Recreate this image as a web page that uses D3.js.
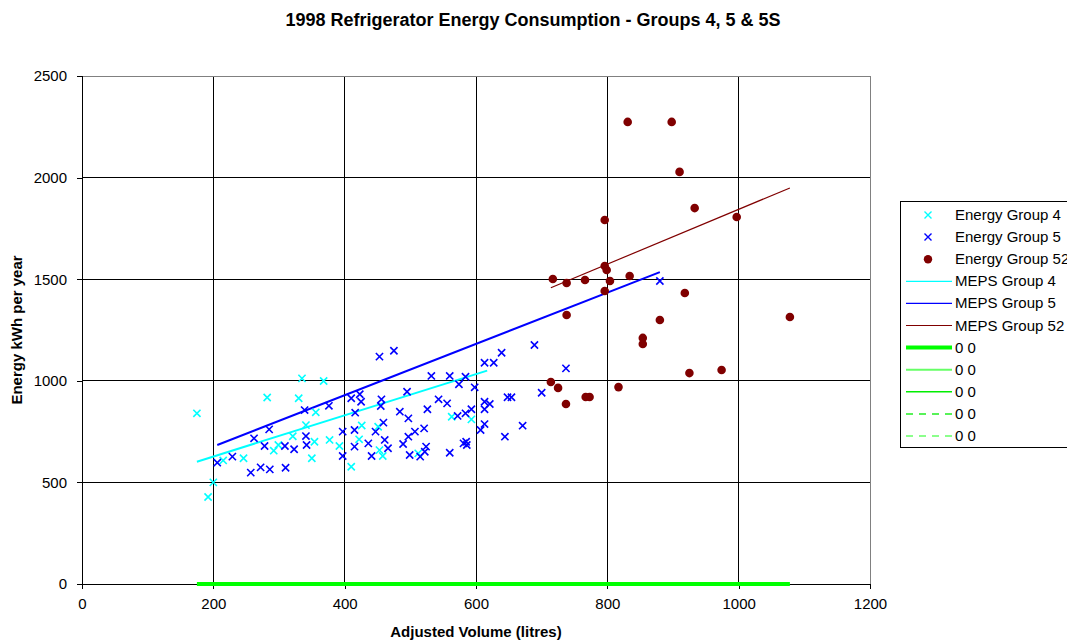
<!DOCTYPE html>
<html>
<head>
<meta charset="utf-8">
<script src="https://cdn.jsdelivr.net/npm/d3@7"></script>
<style>
  body { margin: 0; background: #fff; }
  svg { font-family: Arial, "Liberation Sans", sans-serif; }
</style>
</head>
<body>
<div id="chart"></div>
<script>
// ---- data ----
const group4Vol    = [175, 192, 200, 215, 246, 282, 292, 299, 321, 330, 335, 341, 350, 354, 356, 368, 377, 392, 410, 422, 426, 451, 453, 458, 512, 563, 593];
const group4Energy = [840, 428, 500, 608, 619, 918, 656, 684, 727, 914, 1012, 782, 619, 700, 845, 999, 709, 679, 577, 712, 780, 774, 659, 630, 643, 823, 810];

const group5Vol    = [206, 229, 257, 262, 272, 278, 285, 286, 309, 310, 323, 339, 341, 342, 376, 397, 397, 410, 416, 415, 415, 423, 425, 436, 441, 447, 453, 455, 456, 459, 461, 466, 475, 484, 489, 495, 497, 497, 499, 507, 515, 521, 522, 524, 526, 532, 543, 556, 560, 560, 572, 574, 581, 584, 584, 585, 586, 593, 598, 607, 613, 613, 613, 613, 621, 627, 639, 644, 648, 654, 671, 689, 700, 737, 880];
const group5Energy = [597, 627, 548, 717, 574, 679, 761, 564, 679, 572, 663, 856, 728, 684, 877, 750, 630, 914, 843, 758, 676, 934, 897, 692, 630, 750, 1119, 876, 909, 794, 709, 668, 1148, 848, 689, 946, 815, 725, 635, 750, 627, 766, 651, 676, 860, 1024, 909, 889, 1024, 646, 827, 983, 692, 1020, 840, 700, 684, 860, 968, 758, 1089, 897, 860, 787, 886, 1089, 1138, 725, 919, 919, 779, 1176, 941, 1061, 1491];

const group52Vol    = [714, 725, 737, 738, 738, 717, 766, 767, 773, 796, 796, 799, 796, 804, 817, 831, 834, 854, 854, 880, 898, 910, 918, 925, 933, 974, 997, 1078];
const group52Energy = [994, 965, 886, 1481, 1324, 1501, 1496, 920, 920, 1791, 1565, 1545, 1442, 1491, 969, 2274, 1516, 1211, 1181, 1299, 2274, 2028, 1432, 1038, 1850, 1053, 1806, 1314];

const meps4Vol = [175, 617],  meps4Energy = [602, 1050];
const meps5Vol = [206, 880],  meps5Energy = [684, 1535];
const meps52Vol = [714, 1078], meps52Energy = [1458, 1949];
const zeroVol = [175, 1078],  zeroEnergy = [0, 0];

const xTicks = [0, 200, 400, 600, 800, 1000, 1200];
const yTicks = [0, 500, 1000, 1500, 2000, 2500];

const legendLabels = ["Energy Group 4", "Energy Group 5", "Energy Group 52",
  "MEPS Group 4", "MEPS Group 5", "MEPS Group 52", "0 0", "0 0", "0 0", "0 0", "0 0"];

// ---- layout ----
const W = 1067, H = 642;
const plotL = 82, plotR = 870, plotT = 76, plotB = 584;

const svg = d3.select("#chart").append("svg")
  .attr("width", W).attr("height", H);

const x = d3.scaleLinear().domain([0, 1200]).range([plotL, plotR]);
const y = d3.scaleLinear().domain([0, 2500]).range([plotB, plotT]);

// title
svg.append("text")
  .attr("x", 533).attr("y", 26)
  .attr("text-anchor", "middle")
  .attr("font-weight", "bold").attr("font-size", 18)
  .text("1998 Refrigerator Energy Consumption - Groups 4, 5 & 5S");

// grid
const grid = svg.append("g").attr("shape-rendering", "crispEdges");
grid.selectAll("line.v").data(xTicks).join("line")
  .attr("x1", d => x(d)).attr("x2", d => x(d))
  .attr("y1", plotT).attr("y2", plotB)
  .attr("stroke", "#000");
grid.selectAll("line.h").data(yTicks).join("line")
  .attr("x1", plotL).attr("x2", plotR)
  .attr("y1", d => y(d)).attr("y2", d => y(d))
  .attr("stroke", "#000");
grid.append("rect")
  .attr("x", plotL).attr("y", plotT)
  .attr("width", plotR - plotL).attr("height", plotB - plotT)
  .attr("fill", "none").attr("stroke", "#808080");

// axes
const xAxis = svg.append("g")
  .attr("transform", `translate(0,${plotB})`)
  .call(d3.axisBottom(x).tickValues(xTicks).tickSize(5).tickPadding(9).tickFormat(d3.format("d")));
const yAxis = svg.append("g")
  .attr("transform", `translate(${plotL},0)`)
  .call(d3.axisLeft(y).tickValues(yTicks).tickSize(5).tickPadding(10).tickFormat(d3.format("d")));
[xAxis, yAxis].forEach(a => {
  a.attr("shape-rendering", "crispEdges");
  a.select(".domain").attr("stroke", "#000");
  a.selectAll(".tick line").attr("stroke", "#000");
  a.selectAll(".tick text")
    .attr("font-family", "Arial, 'Liberation Sans', sans-serif")
    .attr("font-size", 15).attr("fill", "#000");
});

// axis titles
svg.append("text")
  .attr("x", x(600)).attr("y", 637)
  .attr("text-anchor", "middle")
  .attr("font-weight", "bold").attr("font-size", 15)
  .text("Adjusted Volume (litres)");
svg.append("text")
  .attr("transform", `translate(22,${y(1250)}) rotate(-90)`)
  .attr("text-anchor", "middle")
  .attr("font-weight", "bold").attr("font-size", 15)
  .text("Energy kWh per year");

// lines
const line = d3.line().x(d => x(d[0])).y(d => y(d[1]));
function drawLine(vols, vals, color, width, dash) {
  svg.append("path")
    .datum(d3.zip(vols, vals))
    .attr("d", line)
    .attr("fill", "none")
    .attr("stroke", color)
    .attr("stroke-width", width)
    .attr("stroke-dasharray", dash || null);
}
drawLine(zeroVol, zeroEnergy, "#00ff00", 4);
drawLine(meps4Vol, meps4Energy, "#00ffff", 2);
drawLine(meps5Vol, meps5Energy, "#0000ff", 2);
drawLine(meps52Vol, meps52Energy, "#800000", 1.2);

// markers
function crossPath(cx, cy, s) {
  return `M${cx - s},${cy - s}L${cx + s},${cy + s}M${cx - s},${cy + s}L${cx + s},${cy - s}`;
}
function drawCrosses(vols, vals, color) {
  svg.append("g").selectAll("path")
    .data(d3.zip(vols, vals))
    .join("path")
    .attr("d", d => crossPath(x(d[0]), y(d[1]), 3.6))
    .attr("stroke", color)
    .attr("stroke-width", 1.6)
    .attr("fill", "none");
}
drawCrosses(group4Vol, group4Energy, "#00ffff");
drawCrosses(group5Vol, group5Energy, "#0000ff");
svg.append("g").selectAll("circle")
  .data(d3.zip(group52Vol, group52Energy))
  .join("circle")
  .attr("cx", d => x(d[0])).attr("cy", d => y(d[1]))
  .attr("r", 4.3)
  .attr("fill", "#800000");

// legend
const lg = svg.append("g");
lg.append("rect")
  .attr("x", 900.5).attr("y", 201.5)
  .attr("width", 200).attr("height", 246)
  .attr("fill", "#fff").attr("stroke", "#000");

const legendStyles = [
  { type: "x", color: "#00ffff" },
  { type: "x", color: "#0000ff" },
  { type: "dot", color: "#800000" },
  { type: "line", color: "#00ffff", w: 1.2 },
  { type: "line", color: "#0000ff", w: 1.2 },
  { type: "line", color: "#800000", w: 1.2 },
  { type: "line", color: "#00ff00", w: 4 },
  { type: "line", color: "#66ff66", w: 2 },
  { type: "line", color: "#00ee00", w: 1.5 },
  { type: "line", color: "#22ee22", w: 1.5, dash: "7,6" },
  { type: "line", color: "#66ff66", w: 1.5, dash: "7,6" }
];
legendLabels.forEach((lab, i) => {
  const cy = 215 + i * 22.1;
  const st = legendStyles[i];
  if (st.type === "x") {
    lg.append("path").attr("d", crossPath(928, cy, 3.5))
      .attr("stroke", st.color).attr("stroke-width", 1.4);
  } else if (st.type === "dot") {
    lg.append("circle").attr("cx", 928).attr("cy", cy).attr("r", 4.2).attr("fill", st.color);
  } else {
    lg.append("line").attr("x1", 906).attr("x2", 952)
      .attr("y1", cy).attr("y2", cy)
      .attr("stroke", st.color).attr("stroke-width", st.w)
      .attr("stroke-dasharray", st.dash || null);
  }
  lg.append("text")
    .attr("x", 955).attr("y", cy + 5)
    .attr("font-size", 15)
    .text(lab);
});
</script>
</body>
</html>
